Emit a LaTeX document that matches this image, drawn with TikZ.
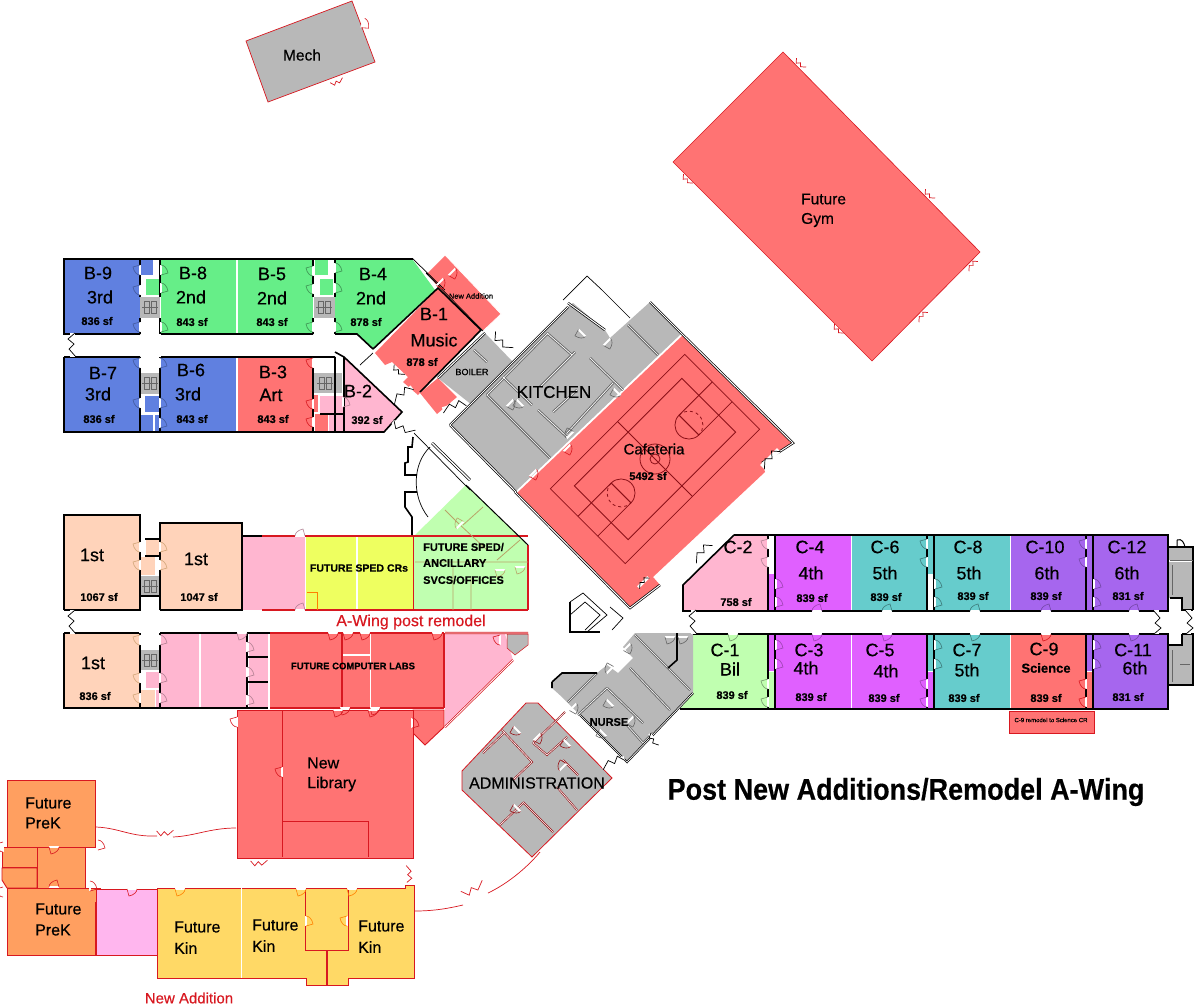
\documentclass[tikz,border=0pt]{standalone}
\usepackage{fontspec}
\setmainfont[RawFeature={embolden=0.4}]{Liberation Sans}
\definecolor{roomblue}{HTML}{6080E0}
\definecolor{roomgreen}{HTML}{66EE88}
\definecolor{roomred}{HTML}{FF7373}
\definecolor{roompink}{HTML}{FFB6D0}
\definecolor{roompeach}{HTML}{FFD3BA}
\definecolor{roomyellow}{HTML}{EEFF60}
\definecolor{roomlime}{HTML}{C0FFB0}
\definecolor{roommagenta}{HTML}{E060FF}
\definecolor{roomteal}{HTML}{66CCCC}
\definecolor{roompurple}{HTML}{A666EE}
\definecolor{roomgray}{HTML}{B8B8B8}
\definecolor{roomorange}{HTML}{FF9F60}
\definecolor{roomgold}{HTML}{FFD966}
\definecolor{roomlilac}{HTML}{FFB6EE}
\definecolor{linered}{HTML}{D81820}
\definecolor{courtline}{HTML}{8C1018}
\definecolor{tanline}{HTML}{B8A468}
\tikzset{
  wall/.style={black, line width=1.6pt},
  thinwall/.style={black, line width=0.7pt},
  redline/.style={linered, line width=0.9pt},
  graywall/.style={black!60, line width=0.9pt},
  roomtext/.style={font=\fontsize{18}{18}\selectfont, inner sep=0pt},
  midtext/.style={font=\fontsize{15.5}{16}\selectfont, inner sep=0pt},
  areatext/.style={font=\bfseries\fontsize{11}{11}\selectfont, inner sep=0pt},
  pics/door/.style={code={
    \fill[white] (-1,-5) rectangle (1,5);
    \draw[#1, line width=0.6pt] (0,-5) -- (-7,-3) .. controls (-6,2) and (-3,5) .. (0,5);
  }},
  pics/zigdoor/.style={code={
    \fill[white] (-2,-12) rectangle (3,12);
    \draw[#1, line width=0.7pt] (3,-12) -- (-4,-6) -- (2,-1) -- (-3,4) -- (4,12);
  }},
}
\newcommand{\doorset}[2]{\foreach \x/\y/\r in {#2} \pic[rotate=\r] at (\x,\y) {door=#1};}
\newcommand{\zigset}[3][1]{\foreach \x/\y/\r in {#3} \pic[rotate=\r, scale=#1] at (\x,\y) {zigdoor=#2};}

\begin{document}
\begin{tikzpicture}[x=1pt,y=-1pt]
  \useasboundingbox (0,0) rectangle (1196,1007);
  \fill[white] (0,0) rectangle (1196,1007);

  % Detached buildings
  \draw[redline, fill=roomgray, line width=0.7pt] (246,41) -- (352,1) -- (375,62) -- (268,102) -- cycle;
  \draw[redline, fill=roomred, line width=0.6pt] (783,52) -- (980,252) -- (872,361) -- (673,162) -- cycle;
  \zigset[0.55]{linered}{800/64/45,929/195/45,972/265/-45,922/316/-45,838/330/45,687/180/45,337/82/110}
  \doorset{linered}{363/23/160}

  % Square rooms, wing by wing
  \foreach \c/\xa/\ya/\xb/\yb in {
    roomblue/64/260/140/334, roomblue/141/260/153/275, roomgreen/146/279/160/295, roomgray/140/297/160/318,
    roomgreen/161/260/236/334, roomgreen/238/260/313/334, roomgreen/315/260/328/275, roomgreen/320/279/333/295,
    roomgray/314/297/335/318,
    roomblue/64/357/140/432, roomgray/140/373/160/394, roomblue/145/396/160/412, roomblue/141/415/153/432,
    roomblue/155/415/160/432, roomblue/161/357/236/432, roomred/238/357/313/432, roomgray/314/373/342/393,
    roomred/314/395/318/412, roomred/315/414/328/432, roompink/320/396/343/414, roompink/329/414/343/432,
    roompeach/64/515/140/610, roompeach/146/539/160/555, roompeach/140/557/155/575, roomgray/140/576/160/596,
    roompeach/161/523/242/610, roompink/242/536/305/610, roomyellow/306/536/413/610,
    roompeach/64/633/139/708, roomgray/140/650/160/670, roompink/146/672/160/688, roompeach/141/690/155/708,
    roompink/156/690/160/708, roompink/161/633/199/708, roompink/201/633/247/708, roompink/249/633/268/708,
    roomred/270/633/342/707, roomred/343/633/370/707, roomred/371/633/444/707,
    roommagenta/776/536/851/611, roommagenta/769/574/775/611, roomteal/852/536/927/611, roomteal/928/536/934/574,
    roomteal/935/536/1010/611, roompurple/1011/536/1086/611, roompurple/1087/536/1093/611, roompurple/1094/536/1168/611,
    roomlime/693/634/768/709, roomlime/769/672/775/709, roommagenta/769/634/775/671, roommagenta/776/634/851/709,
    roommagenta/852/634/927/709, roomteal/928/634/934/671, roommagenta/928/672/934/709, roomteal/935/634/1010/709,
    roomred/1011/634/1086/709, roompurple/1087/634/1093/671, roomred/1087/672/1093/709, roompurple/1094/634/1168/709,
    roomgray/1169/547/1193/560, roomgray/1169/562/1192/598, roomgray/1182/598/1192/610,
    roomgray/1182/634/1193/645, roomgray/1169/645/1192/685}
    \fill[\c] (\xa,\ya) rectangle (\xb,\yb);

  % Angled rooms
  \fill[roomgreen] (335,260) -- (413,260) -- (435,290) -- (373,348) -- (357,334) -- (335,334) -- cycle;
  \fill[roompink] (344,357) -- (402,412) -- (384,432) -- (344,432) -- cycle;
  \fill[roomred] (438,288) -- (481,330) -- (418,395) -- (403,382) -- (408,377) -- (392,362) -- (385,365) -- (375,353) -- cycle;
  \fill[roomred] (420,393) -- (438,378) -- (457,397) -- (437,414) -- cycle;
  \draw[thinwall, fill=roomred, draw=white] (445,255) -- (501,314) -- (483,331) -- (438,288) -- (427,273) -- cycle;
  \fill[roomgray] (485,333) -- (513,362) -- (472,405) -- (438,378) -- cycle;
  \fill[roomgray] (450,425) -- (568,307) -- (573,303) -- (605,330) -- (610,338) -- (650,302) -- (682,333) -- (515,492) -- cycle;
  \fill[roomred] (683,335) -- (793,443) -- (762,463) -- (765,472) -- (653,577) -- (660,585) -- (630,608) -- (517,493) -- cycle;
  \fill[roompink] (734,536) -- (768,536) -- (768,611) -- (683,611) -- (683,585) -- cycle;
  \fill[roomlime] (414,536) -- (466,485) -- (528,545) -- (528,610) -- (414,610) -- cycle;
  \fill[roompink] (445,634) -- (505,634) -- (513,660) -- (445,727) -- cycle;
  \draw[redline, fill=roomgray, line width=0.5pt] (507,634) -- (528,634) -- (528,645) -- (515,655) -- (507,648) -- cycle;
  \draw[redline, fill=roomgray, line width=0.8pt] (526,703) -- (538,703) -- (612,778) -- (532,857) -- (462,790) -- (462,771) -- cycle;
  \fill[roomgray] (635,633) -- (693,633) -- (693,693) -- (627,762) -- (580,715) -- (562,697) -- (552,688) -- (552,682) -- (562,673) -- (597,673) -- (607,665) -- (618,673) -- (633,658) -- (623,647) -- cycle;
  \fill[roomlime] (693,693) -- (693,709) -- (680,709) -- cycle;

  % South additions
  \draw[redline, fill=roomred] (413,710) -- (444,710) -- (444,727) -- (425,745) -- (413,733) -- cycle;
  \draw[redline, fill=roomred] (237,710) rectangle (413,858);
  \draw[redline] (282,710) -- (282,857) (282,821) -- (368,821) -- (368,857);
  \draw[redline, fill=roomorange] (7,780) rectangle (95,847);
  \draw[redline, fill=roomorange] (2,847) rectangle (37,867);
  \draw[redline, fill=roomorange] (2,868) -- (37,868) -- (37,888) -- (7,888) -- (2,880) -- cycle;
  \draw[redline, fill=roomorange] (37,847) rectangle (85,888);
  \draw[redline, fill=roomorange] (7,888) -- (100,888) -- (100,902) -- (95,902) -- (95,955) -- (7,955) -- cycle;
  \draw[redline, fill=roomlilac] (96,889) rectangle (157,955);
  \draw[redline, fill=roomgold] (157,888) -- (305,888) -- (305,950) -- (326,950) -- (326,985) -- (306,985) -- (306,978) -- (157,978) -- cycle;
  \draw[redline, fill=roomgold] (305,888) rectangle (348,950);
  \draw[redline, fill=roomgold] (348,888) -- (405,888) -- (405,885) -- (414,885) -- (414,978) -- (348,978) -- (348,985) -- (327,985) -- (327,950) -- (348,950) -- cycle;
  \draw[white, line width=0.8pt] (241,888) -- (241,978);
  \draw[linered, line width=0.7pt, fill=roomred] (1009,711) rectangle (1094,733);

  % Walls and white room joints
  \draw[white, line width=1.4pt] (237,260) -- (237,334) (237,357) -- (237,432) (200,633) -- (200,708) (248,633) -- (248,708) (357,536) -- (357,610) (342.5,633) -- (342.5,707) (370.5,633) -- (370.5,707) (343,655) -- (370,655) (851.5,536) -- (851.5,611) (851.5,634) -- (851.5,709) (1010.5,536) -- (1010.5,611);
  \draw[wall] (413,259) -- (64,259) -- (64,334) -- (140,334) (161,334) -- (313,334) (335,334) -- (357,334) -- (373,349);
  \draw[wall] (64,357) -- (64,432) -- (384,432) -- (402,412) -- (344,357) -- (335,352) (335,357) -- (161,357) (140,357) -- (64,357);
  \foreach \xw in {140,160,313,335} {
    \draw[wall] (\xw,259) -- (\xw,297) (\xw,318) -- (\xw,334);
    \draw[wall] (\xw,357) -- (\xw,432);
  }
  \draw[wall] (344,357) -- (344,432) (320,414) -- (343,414);
  \draw[wall] (373,349) -- (438,288) -- (481,330) -- (420,392);
  \draw[thinwall] (413,259) -- (445,290) (426,273) -- (483,331) (373,353) -- (360,365);
  \draw[thinwall, double, double distance=1pt] (438,378) -- (485,333) (450,425) -- (568,307) (650,302) -- (683,335) -- (793,443) -- (762,463) (515,492) -- (630,608) -- (660,585) (450,425) -- (516,492) (568,303) -- (605,330);
  \draw[wall] (64,610) -- (64,515) -- (140,515) -- (140,610) -- (64,610);
  \draw[wall] (160,610) -- (160,523) -- (242,523) -- (242,610) -- (160,610);
  \draw[wall] (242,536) -- (262,536) (145,539) -- (160,539) (145,556) -- (160,556) (140,596) -- (160,596);
  \draw[redline, line width=1.3pt] (262,536) -- (528,536) (262,610) -- (528,610) (528,545) -- (528,610) (413.5,536) -- (413.5,610);
  \draw[thinwall, line width=1pt] (466,485) -- (528,545);
  \draw[wall] (64,633) -- (64,708) -- (268,708) (64,633) -- (139,633) (160,633) -- (270,633) (140,633) -- (140,708) (160,633) -- (160,708) (247,633) -- (247,708) (247,657) -- (268,657) (247,682) -- (268,682);
  \draw[redline, line width=1.3pt] (270,633) -- (444,633) (270,708) -- (444,708) (342,633) -- (342,708) (444,633) -- (444,708);
  \draw[redline, line width=0.7pt, double, double distance=0.8pt] (445,633) -- (528,633) (513,660) -- (445,727);
  \draw[wall] (734,535) -- (1168,535) -- (1168,611) -- (683,611) -- (683,585) -- (734,535);
  \draw[wall] (693,634) -- (1168,634) -- (1168,709) -- (680,709);
  \foreach \xw in {768,775,927,934,1086,1093} {
    \draw[wall] (\xw,535) -- (\xw,611) (\xw,634) -- (\xw,709);
  }
  \draw[wall] (1168,547) -- (1193,547) -- (1193,610) (1170,598) -- (1182,598) -- (1182,610) -- (1193,610) (1182,634) -- (1193,634) -- (1193,685) -- (1169,685) (1169,645) -- (1182,645) -- (1182,634);
  \draw[graywall] (1170,560) -- (1193,560) (1172,565) -- (1172,595) (1172,650) -- (1172,682) (1180,664) -- (1190,664);
  \draw[wall, line width=1pt] (1177,547) -- (1177,540) (1177,540) .. controls (1182,538) and (1184,543) .. (1185,547);

  % Stair boxes
  \foreach \xs/\ys in {150/307,324/307,150/383,325/383,150/586,150/660} {
    \draw[graywall, line width=0.6pt] (\xs-6,\ys-6) rectangle (\xs-1,\ys+6) (\xs+1,\ys-6) rectangle (\xs+6,\ys+6) (\xs-8,\ys) -- (\xs+8,\ys);
  }

  % Courtyard wall, arc and ball diamond
  \draw[wall] (413,437) -- (412,447) -- (408,447) -- (408,462) -- (405,463) -- (405,475) -- (417,475) (417,492) -- (405,492) -- (405,507) -- (412,517) -- (412,535);
  \draw[thinwall] (430,447) .. controls (413,463) and (411,495) .. (428,517);
  \draw[thinwall] (413,432) -- (470,490);
  \draw[thinwall, double, double distance=1.4pt] (432,443) -- (470,480);
  \draw[wall] (570,602) -- (570,632) -- (600,632);
  \draw[thinwall] (570,602) -- (583,593) -- (607,615) -- (587,632) (585,602) -- (600,615) -- (585,630) (610,607) -- (623,618) -- (612,630) (570,615) -- (585,602);
  \draw[thinwall] (602,290) -- (587,276) -- (563,300) (602,290) -- (630,318);

  % Kitchen walls
  \draw[graywall, double, double distance=0.7pt] (487,395) -- (550,458) (503,377) -- (532,405) (547,333) -- (572,355) (487,395) -- (548,333) (590,358) -- (623,390) (538,410) -- (567,437) (613,383) -- (567,433) (553,412) -- (577,390) (628,325) -- (658,355) (474,350) -- (487,362) (540,387) -- (575,352);

  % Court
  \begin{scope}[shift={(655,459)}, rotate=45, courtline]
    \draw[line width=0.7pt] (-95,-53) rectangle (95,53);
    \draw[line width=1pt] (-76,-38) rectangle (76,38);
    \draw[line width=0.8pt] (0,-53) -- (0,53) (0,0) circle (15) (0,0) circle (5);
    \foreach \s in {-1,1} {
      \draw[line width=0.8pt] (\s*48,-14) -- (\s*95,-14) (\s*48,14) -- (\s*95,14);
      \draw[line width=1.2pt] (\s*48,-14) -- (\s*48,14);
    }
    \draw[line width=0.8pt] (48,-14) arc[start angle=270, delta angle=-180, radius=14];
    \draw[line width=0.8pt, dashed] (48,-14) arc[start angle=270, delta angle=180, radius=14];
    \draw[line width=0.8pt] (-48,-14) arc[start angle=270, delta angle=180, radius=14];
    \draw[line width=0.8pt, dashed] (-48,-14) arc[start angle=270, delta angle=-180, radius=14];
  \end{scope}

  % Admin and nurse walls
  \draw[linered!70!black, line width=0.6pt, double, double distance=0.6pt] (502,730) -- (532,762) -- (513,780) (483,753) -- (505,732) (533,743) -- (547,755) -- (567,737) (533,743) -- (565,712) (563,760) -- (578,775) (557,787) -- (577,810) (523,802) -- (553,832) (500,825) -- (523,803);
  \draw[graywall, double, double distance=0.6pt] (597,673) -- (568,702) (607,688) -- (578,715) (607,688) -- (643,723) (635,635) -- (690,690) (627,725) -- (643,743) (630,668) -- (670,710) (653,733) -- (643,743);
  \draw[wall] (677,633) -- (677,660) -- (668,668) (552,682) -- (562,673) -- (597,673) (552,682) -- (552,688);
  \draw[thinwall, double, double distance=0.7pt] (693,693) -- (627,762) -- (580,715);

  % Tan and orange partitions
  \draw[tanline, line width=0.8pt] (453,565) -- (453,610) (471,578) -- (471,610) (415,562) -- (528,562) (463,525) -- (483,507) (497,560) -- (520,540) (445,510) -- (458,523) -- (487,550);
  \draw[orange, line width=0.8pt] (307,592) -- (317,592) -- (317,610);

  % Doors
  \doorset{roomblue!70!black}{140/270/0,140/290/0,140/327/0,140/363/0,140/403/0,160/363/180,160/403/180,160/423/180}
  \doorset{roomgreen!60!black}{161/270/180,161/288/180,161/327/180,313/271/0,313/289/0,313/327/0,335/268/180,335/288/180,335/327/180}
  \doorset{linered}{313/363/0,313/404/0,313/422/0,1086/684/0,1086/702/0,440/282/135,452/272/135,500/640/0,533/473/135,567/448/135}
  \doorset{roompink!70!black}{343/402/180,768/544/0,768/562/0,160/640/180,160/678/180,160/698/180,300/536/270,300/610/270,242/633/90,247/647/180,247/672/180,247/700/180}
  \doorset{brown!70!white}{140/547/0,140/565/0,160/547/180,160/565/180,140/640/0,140/678/0,140/698/0}
  \doorset{roommagenta!70!black}{776/584/180,776/602/180,817/611/270,776/645/180,776/664/180,817/634/90,887/634/90,927/684/0,927/702/0}
  \doorset{roomteal!60!black}{927/544/0,927/562/0,887/611/270,935/584/180,935/602/180,975/611/270,935/645/180,935/664/180,975/634/90}
  \doorset{roompurple!70!black}{1086/544/0,1086/562/0,1046/611/270,1094/584/180,1094/602/180,1134/611/270,1094/645/180,1094/664/180,1134/634/90}
  \doorset{roomlime!60!black}{733/634/90,768/684/0,768/702/0}
  \doorset{linered}{1046/634/90,333/633/90,348/633/90,365/633/90,437/633/90,345/708/90,375/708/90,282/772/0,237/722/0,338/710/90,373/710/90,412/723/180,3/847/0,98/845/180,54/847/90,54/887/270,90/886/180,3/892/0,132/889/90}
  \doorset{orange}{180/889/90,301/889/90,352/889/90,306/921/180,347/921/0}
  \doorset{tanline}{460/525/-45,520/567/90,500/570/90}
  \doorset{black!60}{582/333/45,607/342/135,520/403/45,510/403/135,617/392/45,570/435/-45,610/703/45,630/720/135,603/733/45,573/707/135,610/670/-45,627/647/135,670/637/90,683/637/90}
  \doorset{linered!70!black}{517/730/45,537/737/135,567/743/45,563/767/-45,517/808/45}

  % Paired corridor doors
  \zigset{black}{72/345/0,72/622/0,693/622/0,1157/622/180,1189/622/180,402/394/-55,403/428/62,454/406/-75,502/342/45,770/458/-45,702/552/-45,613/762/-70}
  \zigset[0.6]{black}{643/582/-45,653/740/30,398/371/45}
  \zigset[0.7]{linered}{259/863/90,409/874/180,165/833/90}
  \zigset{linered}{473/889/115}

  % Covered walks
  \draw[redline, line width=0.7pt] (96,827) .. controls (120,828) and (130,837) .. (157,836) (173,837) .. controls (195,836) and (210,828) .. (236,828);
  \draw[redline, line width=0.7pt] (415,911) .. controls (435,911) and (450,908) .. (463,905) (488,893) .. controls (505,885) and (525,870) .. (540,852);

  % Room labels
  \foreach \nm/\x/\y/\txt in {
    bNine/98/273/B-9, bNineA/100/297/3rd, bEight/193/273/B-8, bEightA/191/297/2nd, bFive/272/274/B-5, bFiveA/272/298/2nd,
    bFour/373/274/B-4, bFourA/371/298/2nd, bOne/434/314/B-1, bOneA/434/340/Music, bSeven/103/373/B-7, bSevenA/98/394/3rd,
    bSix/191/370/B-6, bSixA/188/394/3rd, bThree/273/372/B-3, bThreeA/271/395/Art, bTwo/358/391/B-2,
    aOne/92/555/1st, aTwo/196/559/1st, aThree/93/663/1st,
    cTwo/738/547/C-2, cFour/810/547/C-4, cFourA/811/573/4th, cSix/885/547/C-6, cSixA/885/573/5th, cEight/968/547/C-8, cEightA/969/573/5th,
    cTen/1045/547/C-10, cTenA/1047/573/6th, cTwelve/1127/547/C-12, cTwelveA/1127/573/6th,
    cOne/725/650/C-1, cOneA/730/669/Bil, cThree/809/650/C-3, cThreeA/806/668/4th, cFive/880/650/C-5, cFiveA/886/671/4th,
    cSeven/967/650/C-7, cSevenA/967/670/5th, cNine/1044/649/C-9, cEleven/1133/650/C-11, cElevenA/1135/668/6th}
    \node[roomtext] (\nm) at (\x,\y) {\txt};

  % Floor areas
  \foreach \nm/\x/\y/\txt in {
    sfA/97/321/836 sf, sfB/192/322/843 sf, sfC/272/322/843 sf, sfD/366/322/878 sf, sfE/422/362/878 sf, sfF/99/419/836 sf, sfG/192/419/843 sf,
    sfH/273/419/843 sf, sfI/367/420/392 sf, sfJ/99/597/1067 sf, sfK/199/597/1047 sf, sfL/95/696/836 sf, sfM/648/476/5492 sf,
    sfN/736/602/758 sf, sfO/812/598/839 sf, sfP/886/597/839 sf, sfQ/973/596/839 sf, sfR/1046/596/839 sf, sfS/1128/596/831 sf,
    sfT/732/695/839 sf, sfU/811/697/839 sf, sfV/884/698/839 sf, sfW/964/698/839 sf, sfX/1046/698/839 sf, sfY/1128/697/831 sf}
    \node[areatext] (\nm) at (\x,\y) {\txt};

  % Other labels
  \node[midtext] (mech) at (302,55) {Mech};
  \node[midtext, anchor=west] (gymA) at (801,199) {Future};
  \node[midtext, anchor=west] (gymB) at (801,220) {Gym};
  \node[midtext, font=\fontsize{15}{15}\selectfont] (cafe) at (654,449) {Cafeteria};
  \node[roomtext, font=\fontsize{17}{17}\selectfont] (kitchen) at (554,392) {KITCHEN};
  \node[roomtext, font=\fontsize{9}{9}\selectfont] (boiler) at (472,372) {BOILER};
  \node[roomtext, font=\fontsize{7.5}{8}\selectfont] (newadd) at (471,296) {New Addition};
  \node[areatext, font=\bfseries\fontsize{10.5}{11}\selectfont] (spedcr) at (359,568) {FUTURE SPED CRs};
  \node[areatext, anchor=west] (spedA) at (423,547) {FUTURE SPED/};
  \node[areatext, anchor=west] (spedB) at (423,563) {ANCILLARY};
  \node[areatext, anchor=west] (spedC) at (423,580) {SVCS/OFFICES};
  \node[roomtext, linered, font=\fontsize{16}{16}\selectfont] (awing) at (411,622) {A-Wing post remodel};
  \node[areatext, font=\bfseries\fontsize{9.5}{10}\selectfont] (labs) at (353,666) {FUTURE COMPUTER LABS};
  \node[areatext, font=\bfseries\fontsize{13}{13}\selectfont] (science) at (1046,668) {Science};
  \node[roomtext, font=\fontsize{6}{6}\selectfont] (cnote) at (1051,720) {C-9 remodel to Science CR};
  \node[areatext] (nurse) at (609,722) {NURSE};
  \node[roomtext, font=\fontsize{16}{16}\selectfont] (admin) at (537,783) {ADMINISTRATION};
  \node[roomtext, font=\fontsize{16}{16}\selectfont, anchor=west] (libA) at (307,763) {New};
  \node[roomtext, font=\fontsize{16}{16}\selectfont, anchor=west] (libB) at (307,784) {Library};
  \foreach \nm/\x/\ya/\yb/\aa/\bb in {preA/25/803/823/Future/PreK, preB/35/909/930/Future/PreK, kinA/174/927/948/Future/Kin, kinB/252/925/946/Future/Kin, kinC/358/926/947/Future/Kin} {
    \node[roomtext, font=\fontsize{16}{16}\selectfont, anchor=west] (\nm a) at (\x,\ya) {\aa};
    \node[roomtext, font=\fontsize{16}{16}\selectfont, anchor=west] (\nm b) at (\x,\yb) {\bb};
  }
  \node[roomtext, linered, font=\fontsize{15}{15}\selectfont] (addition) at (189,998) {New Addition};
  \node[font=\bfseries\fontsize{30}{30}\selectfont, inner sep=0pt, xscale=0.9] (title) at (906,792) {Post New Additions/Remodel A-Wing};
\end{tikzpicture}
\end{document}
